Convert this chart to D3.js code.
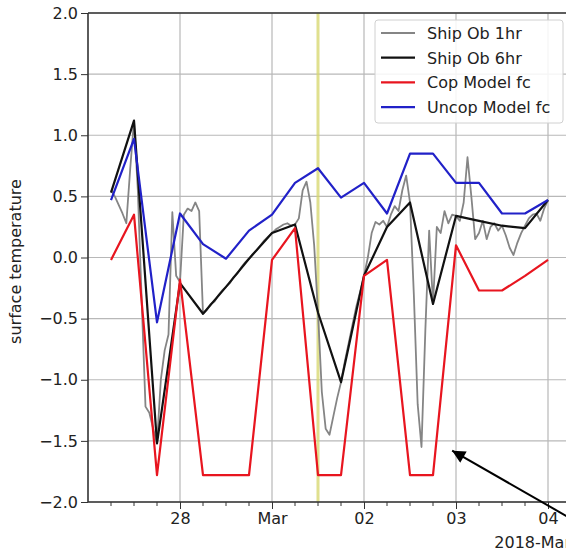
<!DOCTYPE html>
<html>
<head>
<meta charset="utf-8">
<script src="https://cdn.jsdelivr.net/npm/d3@7"></script>
<style>
  body { margin: 0; background: #fff; overflow: hidden; }
  text { font-family: "DejaVu Sans", sans-serif; fill: #222; }
  .tick line { stroke: #333; }
  .domain { display: none; }
</style>
</head>
<body>
<script>
// hourly ship obs start 2018-02-27 06:00 UTC, six hourly series start at the same time
let startTime = Date.UTC(2018, 1, 27, 6)

let shipOb1hr = [
  0.55, 0.50, 0.43, 0.36, 0.28, 0.72, 1.12, 0.55, -0.35, -1.22, -1.27, -1.40, -1.52, -1.00, -0.76, -0.63, 0.37, -0.15,
  -0.20, 0.35, 0.40, 0.38, 0.45, 0.38, -0.46, -0.43, -0.38, -0.36, -0.31, -0.27, -0.24, -0.21, -0.16, -0.13, -0.08, -0.04,
  -0.01, 0.03, 0.06, 0.10, 0.14, 0.17,
  0.20, 0.23, 0.25, 0.27, 0.28, 0.26, 0.27, 0.32, 0.55, 0.62, 0.45, 0.10, -0.45, -1.10, -1.40, -1.45, -1.30, -1.15,
  -1.02, -0.85, -0.70, -0.55, -0.40, -0.28,
  -0.15, 0.00, 0.20, 0.29, 0.27, 0.30, 0.25, 0.35, 0.42, 0.38, 0.55, 0.67, 0.45, -0.30, -1.20, -1.55, -0.60, 0.22,
  -0.38, 0.25, 0.20, 0.38, 0.28, 0.35,
  0.34, 0.30, 0.45, 0.82, 0.50, 0.15, 0.20, 0.30, 0.15, 0.25, 0.28, 0.22, 0.26, 0.18, 0.08, 0.02, 0.12, 0.20,
  0.26, 0.32, 0.35, 0.36, 0.30, 0.40,
  0.47
]
let shipOb6hr = [0.53, 1.12, -1.52, -0.21, -0.46, -0.24, -0.01, 0.20, 0.27, -0.45, -1.02, -0.15, 0.25, 0.45, -0.38, 0.34, 0.30, 0.26, 0.24, 0.47]
let copModel = [-0.02, 0.35, -1.78, -0.18, -1.78, -1.78, -1.78, -0.02, 0.24, -1.78, -1.78, -0.15, -0.02, -1.78, -1.78, 0.10, -0.27, -0.27, -0.15, -0.02]
let uncopModel = [0.47, 0.97, -0.53, 0.36, 0.11, -0.01, 0.22, 0.35, 0.61, 0.73, 0.49, 0.61, 0.36, 0.85, 0.85, 0.61, 0.61, 0.36, 0.36, 0.47]

let seriesNames = ["Ship Ob 1hr", "Ship Ob 6hr", "Cop Model fc", "Uncop Model fc"]
let yTicks = [-2.0, -1.5, -1.0, -0.5, 0.0, 0.5, 1.0, 1.5, 2.0]
let markerTime = Date.UTC(2018, 2, 1, 12)
// annotation arrow: tip and tail in data coordinates
let arrowTip = [Date.UTC(2018, 2, 2, 23), -1.58]
let arrowTail = [Date.UTC(2018, 2, 4, 14), -2.28]

let margin = {top: 13, right: 0, bottom: 55, left: 88}
let width = 483, height = 489

let svg = d3.select("body").append("svg")
  .attr("width", 566)
  .attr("height", 557)
  .style("overflow", "hidden")

let g = svg.append("g")
  .attr("transform", "translate(" + margin.left + "," + margin.top + ")")

let x = d3.scaleUtc()
  .domain([Date.UTC(2018, 1, 27), Date.UTC(2018, 2, 4, 6)])
  .range([0, width])
let y = d3.scaleLinear().domain([-2, 2]).range([height, 0])

let toPoints = (vals, stepHours) => vals.map((v, i) => ({t: d3.utcHour.offset(new Date(startTime), i * stepHours), v: v}))

// grid
let dayTicks = d3.utcDay.range(new Date(Date.UTC(2018, 1, 28)), new Date(Date.UTC(2018, 2, 4, 1)))
g.append("g").selectAll("line").data(yTicks).enter().append("line")
  .attr("x1", 0).attr("x2", width)
  .attr("y1", d => y(d)).attr("y2", d => y(d))
  .attr("stroke", "#b8b8b8").attr("stroke-width", 1.2)
g.append("g").selectAll("line").data(dayTicks).enter().append("line")
  .attr("x1", d => x(d)).attr("x2", d => x(d))
  .attr("y1", 0).attr("y2", height)
  .attr("stroke", "#b8b8b8").attr("stroke-width", 1.2)

// yellow marker
g.append("line")
  .attr("x1", x(markerTime)).attr("x2", x(markerTime))
  .attr("y1", 0).attr("y2", height)
  .attr("stroke", "#d6d66a").attr("stroke-width", 3).attr("opacity", 0.75)

// lines
let line = d3.line().x(d => x(d.t)).y(d => y(d.v))
let series = [
  {name: seriesNames[0], pts: toPoints(shipOb1hr, 1), color: "#858585", w: 1.8},
  {name: seriesNames[1], pts: toPoints(shipOb6hr, 6), color: "#111111", w: 2.2},
  {name: seriesNames[2], pts: toPoints(copModel, 6), color: "#e8151f", w: 2.2},
  {name: seriesNames[3], pts: toPoints(uncopModel, 6), color: "#2121c8", w: 2.2}
]
series.forEach(s => {
  g.append("path")
    .datum(s.pts)
    .attr("fill", "none")
    .attr("stroke", s.color)
    .attr("stroke-width", s.w)
    .attr("stroke-linejoin", "round")
    .attr("d", line)
})

// axes
let yAxis = d3.axisLeft(y).tickValues(yTicks).tickFormat(d3.format(".1f")).tickSize(7).tickPadding(3)
g.append("g").call(yAxis)
  .selectAll("text").style("font-size", "16px")

let fmtDay = d => d.getUTCDate() === 1 ? "Mar" : d3.utcFormat("%d")(d)
let xAxis = d3.axisBottom(x).tickValues(dayTicks).tickFormat(fmtDay).tickSize(7).tickPadding(4)
g.append("g").attr("transform", "translate(0," + height + ")").call(xAxis)
  .selectAll("text").style("font-size", "16px")

let minorTicks = d3.utcHour.every(6).range(new Date(Date.UTC(2018, 1, 27, 6)), new Date(Date.UTC(2018, 2, 4, 6)))
  .filter(d => d.getUTCHours() !== 0)
g.append("g").selectAll("line").data(minorTicks).enter().append("line")
  .attr("x1", d => x(d)).attr("x2", d => x(d))
  .attr("y1", height).attr("y2", height + 4)
  .attr("stroke", "#333").attr("stroke-width", 1)

// offset label
g.append("text")
  .attr("x", width).attr("y", height + 46)
  .attr("text-anchor", "end")
  .style("font-size", "16px")
  .text("2018-Mar")

// spines
g.append("line").attr("x1", 0).attr("x2", width).attr("y1", 0).attr("y2", 0).attr("stroke", "#333").attr("stroke-width", 1.6)
g.append("line").attr("x1", 0).attr("x2", width).attr("y1", height).attr("y2", height).attr("stroke", "#333").attr("stroke-width", 1.6)
g.append("line").attr("x1", 0).attr("x2", 0).attr("y1", 0).attr("y2", height).attr("stroke", "#333").attr("stroke-width", 1.6)

// y label
svg.append("text")
  .attr("transform", "translate(21," + (margin.top + height / 2 + 4) + ") rotate(-90)")
  .attr("text-anchor", "middle")
  .style("font-size", "16px")
  .text("surface temperature")

// arrow annotation
svg.append("defs").append("marker")
  .attr("id", "head")
  .attr("viewBox", "0 0 10 10")
  .attr("refX", 10).attr("refY", 5)
  .attr("markerWidth", 15).attr("markerHeight", 13)
  .attr("markerUnits", "userSpaceOnUse")
  .attr("orient", "auto")
  .append("path").attr("d", "M0,0 L10,5 L0,10 z").attr("fill", "#000")
g.append("line")
  .attr("x1", x(arrowTail[0])).attr("y1", y(arrowTail[1]))
  .attr("x2", x(arrowTip[0])).attr("y2", y(arrowTip[1]))
  .attr("stroke", "#000").attr("stroke-width", 2)
  .attr("marker-end", "url(#head)")

// legend
let legend = svg.append("g").attr("transform", "translate(375,20)")
legend.append("rect")
  .attr("width", 188).attr("height", 103)
  .attr("rx", 3)
  .attr("fill", "#fff").attr("fill-opacity", 0.85)
  .attr("stroke", "#d0d0d0")
series.forEach((s, i) => {
  let row = legend.append("g").attr("transform", "translate(0," + (13 + i * 24.7) + ")")
  row.append("line").attr("x1", 6).attr("x2", 40).attr("y1", 0).attr("y2", 0)
    .attr("stroke", s.color).attr("stroke-width", s.w)
  row.append("text").attr("x", 52).attr("y", 6).style("font-size", "16px").text(s.name)
})
</script>
</body>
</html>
